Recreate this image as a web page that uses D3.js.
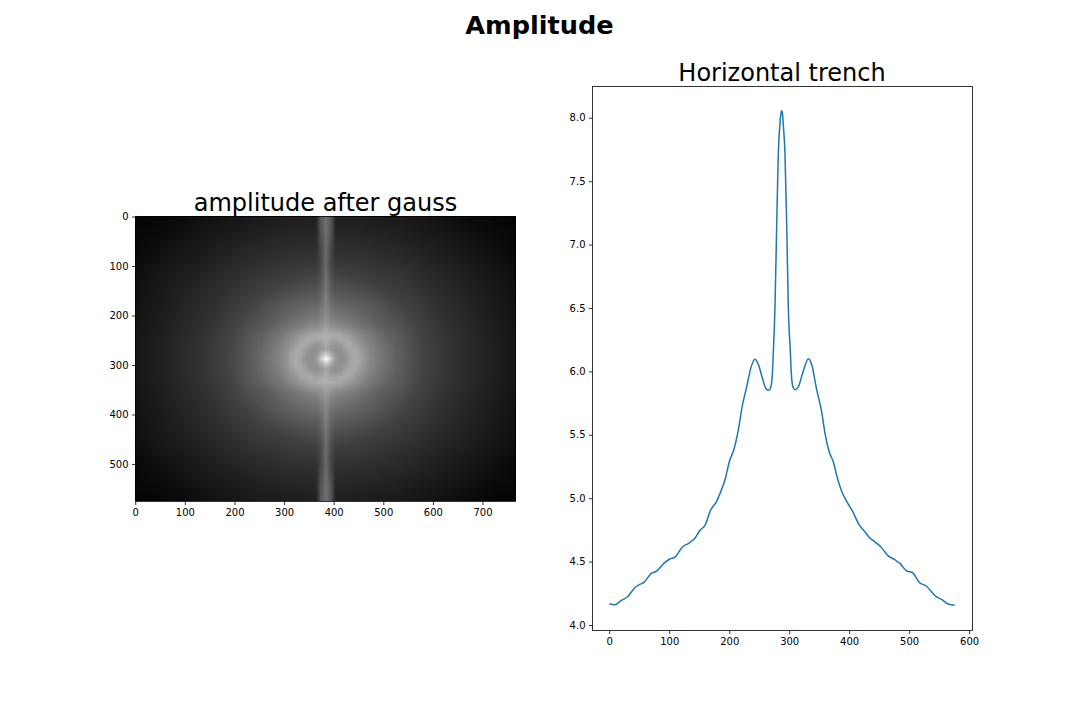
<!DOCTYPE html>
<html><head><meta charset="utf-8">
<script src="https://cdn.jsdelivr.net/npm/d3@7/dist/d3.min.js"></script>
<style>html,body{margin:0;padding:0;background:#fff}svg{display:block}text{font-family:"DejaVu Sans",sans-serif}</style>
</head><body><svg id="c" width="1080" height="720"></svg>
<script>
const trenchX=[0,9.5,20.6,30,43,51,58,69.5,79,91,101,109.5,122,133,143,151,159.5,169,179,187,193,200,208.5,215,222.5,229,236,243,248.5,256,261,266.3,269,270.5,272,273.5,276.3,279,281.8,284.6,286,287.4,289,290,293,296,298.5,302,303.5,305,307,309.6,315,322.4,332,337.4,345.8,354,359.6,366,373.6,380,387.4,395.8,405.8,416,426,434.6,443,453,465,476,484.7,496,505,517,529,544.5,554,565,576];
const trenchY=[4.16,4.155,4.19,4.215,4.29,4.315,4.33,4.40,4.42,4.48,4.515,4.53,4.61,4.64,4.68,4.74,4.78,4.90,4.97,5.06,5.14,5.28,5.39,5.53,5.74,5.87,6.02,6.09,6.05,5.93,5.86,5.845,5.865,5.90,5.98,6.14,6.505,7.11,7.71,7.95,8.02,8.05,8.02,7.95,7.71,7.11,6.505,6.14,5.98,5.90,5.865,5.85,5.87,5.98,6.095,6.05,5.85,5.68,5.51,5.37,5.28,5.16,5.05,4.97,4.89,4.79,4.73,4.68,4.65,4.61,4.54,4.51,4.48,4.42,4.41,4.33,4.30,4.22,4.197,4.16,4.15];
const imgTicksX=[0,100,200,300,400,500,600,700];
const imgTicksY=[0,100,200,300,400,500];
const lineTicksX=[0,100,200,300,400,500,600];
const lineTicksY=[4,4.5,5,5.5,6,6.5,7,7.5,8];
// brightness, centre outward: one row per 20 image rows, one column per 20 image columns
const outerGlow=[
[150,145,145,150,140,126,112,98,88,76,67,61,54,49,44,39,35,31,27,23],
[145,145,145,150,137,124,111,97,87,75,67,61,54,49,44,39,35,31,27,23],
[150,150,150,147,131,120,107,95,85,74,65,59,53,48,43,39,34,31,26,23],
[150,150,138,129,120,110,98,89,80,70,63,57,52,47,42,37,33,29,25,21],
[128,127,123,116,108,99,91,83,73,66,60,54,49,44,40,36,32,28,24,20],
[112,111,108,102,96,90,83,74,67,62,57,51,47,43,38,34,30,27,23,19],
[96,95,93,90,86,78,73,67,62,58,53,48,44,40,36,33,29,25,21,18],
[84,84,82,77,73,69,65,61,57,54,49,45,42,38,34,31,28,24,20,17],
[72,72,70,67,64,61,59,56,53,49,45,42,38,35,32,29,26,22,19,16],
[62,62,61,60,58,55,53,51,48,44,42,38,35,33,30,27,24,21,18,14],
[54,54,53,53,51,49,47,44,42,41,36,34,31,28,25,22,20,17,14,10],
[48,48,47,47,46,43,42,41,39,36,33,31,28,26,23,20,18,15,11,9],
[42,42,42,41,40,39,37,35,33,31,29,28,25,23,20,18,15,12,10,8],
[37,37,36,36,34,33,32,31,29,27,25,23,21,19,17,14,11,9,8,7],
[32,32,32,31,30,29,28,27,25,23,21,19,17,15,12,10,9,7,6,5]];
// the central ring and spot: one row and column per 10 image pixels
const centreGlow=[
[255,200,150,143,147,162,172,162,148,136,127,120,113,105,98,93],
[205,175,148,144,150,164,172,161,147,135,127,119,112,104,98,93],
[167,150,144,146,158,168,167,155,144,133,125,118,111,104,97,92],
[169,155,149,158,168,170,158,148,139,130,122,115,109,102,96,91],
[175,168,165,172,170,163,151,142,133,125,118,113,105,98,93,89],
[175,173,170,165,158,151,143,135,127,120,114,109,102,96,92,87],
[167,158,153,151,145,139,132,125,119,115,108,103,97,92,88,83],
[157,146,139,135,130,126,120,115,111,105,100,95,91,87,83,79],
[149,136,128,125,122,118,114,110,105,101,96,92,89,85,81,77],
[142,128,119,117,114,112,108,104,100,96,92,89,85,81,77,74],
[136,122,111,109,106,104,100,97,94,91,88,85,81,78,74,71],
[131,115,102,100,98,96,93,90,88,85,81,79,75,72,69,67]];
// gray at the centre of the vertical stripe, and how much of it reaches 10 columns to the side
const stripePeak=[255,165,172,167,149,136,130,122,115,110,106,106,110,112,112];
const stripeSide=[.5,.5,.5,.5,.4,.35,.3,.3,.3,.3,.35,.45,.55,.65,.7];

const svg=d3.select("#c");
svg.append("text").attr("x",539.5).attr("y",34).attr("text-anchor","middle").attr("font-size",25.6).attr("font-weight","bold").text("Amplitude");

// left panel
const L={x0:135,x1:516,y0:216,y1:501};
const ix=d3.scaleLinear([-.5,767.5],[L.x0,L.x1]), iy=d3.scaleLinear([-.5,575.5],[L.y0,L.y1]);
const gray=d3.scaleLinear([0,255],["#000","#fff"]);
function layer(cols,rows,paint){
  const cv=document.createElement("canvas"); cv.width=cols; cv.height=rows;
  const ctx=cv.getContext("2d");
  for(let j=0;j<rows;j++)for(let i=0;i<cols;i++){ctx.fillStyle=paint(i,j);ctx.fillRect(i,j,1,1);}
  return cv.toDataURL();
}
svg.append("clipPath").attr("id","ic").append("rect").attr("x",L.x0).attr("y",L.y0).attr("width",L.x1-L.x0).attr("height",L.y1-L.y0);
const imgG=svg.append("g").attr("clip-path","url(#ic)");
function place(href,x0,x1,y0,y1){
  imgG.append("image").attr("href",href).attr("preserveAspectRatio","none")
    .attr("x",ix(x0)).attr("y",iy(y0)).attr("width",ix(x1)-ix(x0)).attr("height",iy(y1)-iy(y0));
}
const nR=outerGlow.length,nC=outerGlow[0].length;
place(layer(2*nC-1,2*nR-1,(i,j)=>gray(outerGlow[Math.abs(j-nR+1)][Math.abs(i-nC+1)])),-6,774,-2,578);
// stripe, 5 columns 10 apart
place(layer(5,2*nR-1,(i,j)=>{
  const b=Math.abs(j-nR+1),a=Math.abs(i-2);
  const bg=outerGlow[b][0];
  const peak=Math.max(0,(stripePeak[b]-bg)/(255-bg));
  const f=a===0?1:a===1?stripeSide[b]:0;
  return `rgba(255,255,255,${peak*f})`;
}),359,409,-2,578);
// central ring, feathered into the outer glow
const fR=centreGlow.length,fC=centreGlow[0].length;
place(layer(2*fC-1,2*fR-1,(i,j)=>{
  const b=Math.abs(j-fR+1),a=Math.abs(i-fC+1);
  const edge=Math.min(fR-1-b,fC-1-a);
  const al=Math.min(1,edge/2);
  const c=d3.color(gray(centreGlow[b][a])); c.opacity=al;
  return c.formatRgb();
}),229,539,178,398);

function axes(x0,x1,y0,y1,sx,sy,tx,ty,fy,oy){
  const gx=svg.append("g").attr("transform",`translate(0,${y1+.5})`).call(d3.axisBottom(sx).tickValues(tx).tickSize(3.5).tickPadding(3.5).tickFormat(d3.format("d")));
  const gy=svg.append("g").attr("transform",`translate(${x0+.5},0)`).call(d3.axisLeft(sy).tickValues(ty).tickSize(3.5).tickPadding(3.5).tickFormat(fy).offset(oy));
  [gx,gy].forEach(g=>{g.select(".domain").remove();g.attr("font-size",null);g.selectAll("text").attr("font-size",10).attr("fill","#000").attr("font-family","DejaVu Sans");g.selectAll("line").attr("stroke","#000").attr("stroke-width",.8);});
  svg.append("rect").attr("x",x0+.5).attr("y",y0+.5).attr("width",x1-x0).attr("height",y1-y0).attr("fill","none").attr("stroke","#000").attr("stroke-width",.8);
}
axes(L.x0,L.x1-1,L.y0,L.y1,ix,iy,imgTicksX,imgTicksY,d3.format("d"),.8);
svg.append("text").attr("x",(L.x0+L.x1)/2).attr("y",L.y0-5).attr("text-anchor","middle").attr("font-size",24).text("amplitude after gauss");

// right panel
const R={x0:592,x1:972,y0:86,y1:630};
const lx=d3.scaleLinear([-28.8,604.8],[R.x0,R.x1]), ly=d3.scaleLinear([3.955,8.245],[R.y1,R.y0]);
const pts=d3.zip(trenchX,trenchY);
svg.append("path").datum(pts).attr("fill","none").attr("stroke","#1f77b4").attr("stroke-width",1.5)
  .attr("d",d3.line().x(d=>lx(d[0])).y(d=>ly(d[1])).curve(d3.curveMonotoneX));
axes(R.x0,R.x1,R.y0,R.y1,lx,ly,lineTicksX,lineTicksY,d3.format(".1f"),1.2);
svg.append("text").attr("x",(R.x0+R.x1)/2).attr("y",R.y0-5).attr("text-anchor","middle").attr("font-size",24).text("Horizontal trench");
</script></body></html>
